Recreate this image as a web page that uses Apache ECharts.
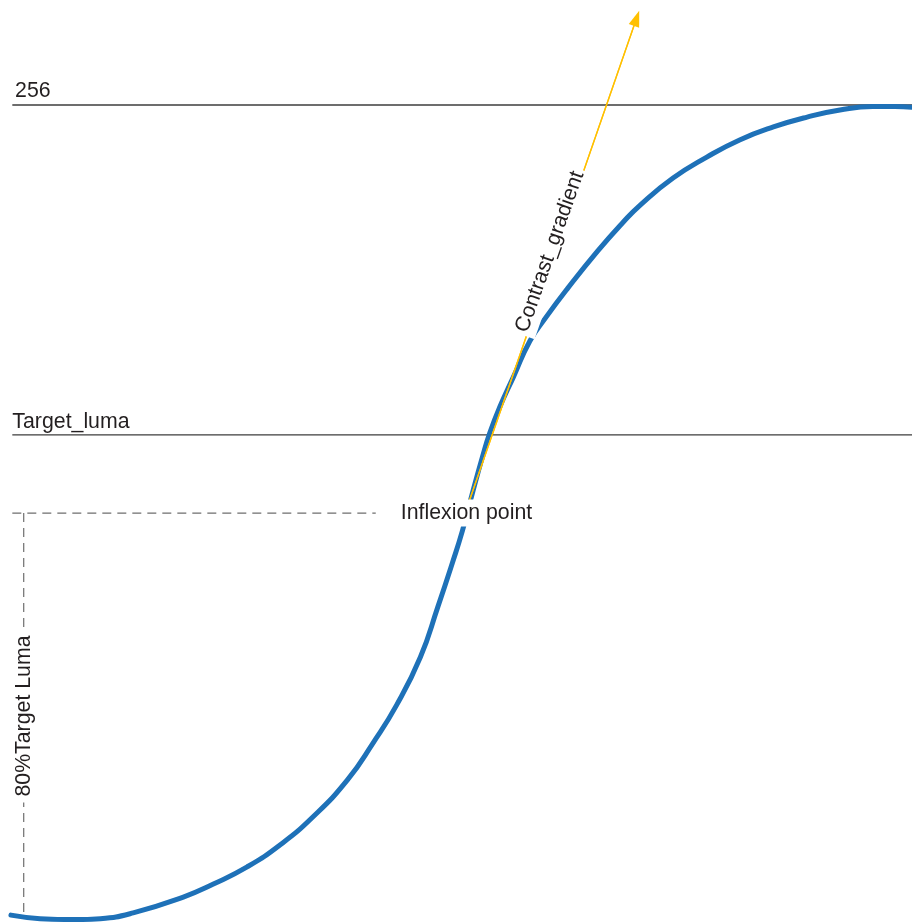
<!DOCTYPE html>
<html>
<head>
<meta charset="utf-8">
<script src="https://cdn.jsdelivr.net/npm/echarts@6/dist/echarts.min.js"></script>
<style>
html,body{margin:0;padding:0;background:#fff;}
#main{width:912px;height:922px;}
</style>
</head>
<body>
<div id="main"></div>
<script>
// S-curve (x: 0..100 across, y: luma)
const curveX = [1.2,4.4,8.2,11.0,14.6,20.1,23.4,27.1,30.7,34.3,38.1,40.9,43.5,46.1,48.0,49.6,50.7,51.8,52.9,53.7,54.8,56.3,58.1,59.8,62.2,65.5,68.3,70.2,73.8,77.5,81.1,84.8,88.5,92.1,95.7,98.1,100];
const curveY = [0.9,-0.2,-0.5,-0.2,1.6,6.6,10.7,16.1,23.0,31.8,43.5,55.1,67.1,82.2,97.9,111.8,121.9,133.8,145.2,152.7,160.9,170.4,181.7,188.9,198.1,209.9,219.0,224.5,233.0,239.6,245.0,249.1,252.2,254.4,255.5,255.5,255.3];

// axis extent (whole canvas)
const yMin = -1.26;
const yMax = 289.06;

// reference levels
const maxLuma = 256;
const targetLuma = 152.1;
const inflexionY = 127.5;
const inflexionX = 51.0;
const lineStartX = 1.35;
const lineEndX = 100;
const dashedEndX = 41.2;
const vertDashX = 2.6;
const vertDashBottom = 0.6;
const arrowEnd = [69.8, 283.3];

// annotation texts and anchors
const labelTexts = ['256', 'Target_luma', 'Inflexion point', '80%Target Luma', 'Contrast_gradient'];
const labelX = [1.6, 1.3, 51.15, 2.63, 60.3];
const labelY = [260.4, 156.2, 127.5, 63.6, 209.8];

const textColor = '#231f20';
const font = "'Liberation Sans', Arial, Helvetica, sans-serif";

const chart = echarts.init(document.getElementById('main'), null, {renderer: 'canvas'});

const labelStyles = [
  {position: 'right', distance: 0, align: 'left', verticalAlign: 'middle'},
  {position: 'right', distance: 0, align: 'left', verticalAlign: 'middle'},
  {position: 'inside', align: 'center', verticalAlign: 'middle', backgroundColor: '#fff', padding: [3, 4]},
  {position: 'inside', align: 'center', verticalAlign: 'middle', rotate: 90, backgroundColor: '#fff', padding: [2, 6]},
  {position: 'inside', align: 'center', verticalAlign: 'middle', rotate: 70.6, backgroundColor: '#fff', padding: [4, 3]}
];

const labelData = labelTexts.map((t, i) => ({
  name: t,
  value: [labelX[i], labelY[i]],
  label: Object.assign({
    show: true, formatter: '{b}',
    color: textColor, fontSize: 21.3, fontFamily: font
  }, labelStyles[i])
}));

const option = {
  animation: false,
  backgroundColor: '#fff',
  grid: {left: 0, right: 0, top: 0, bottom: 0, containLabel: false},
  xAxis: {type: 'value', min: 0, max: 100, show: false},
  yAxis: {type: 'value', min: yMin, max: yMax, show: false},
  series: [
    {
      name: 'max', type: 'line', z: 1, clip: false, symbol: 'none', silent: true,
      data: [[lineStartX, maxLuma], [lineEndX, maxLuma]],
      lineStyle: {color: '#3c3c3c', width: 1.3}
    },
    {
      name: 'target', type: 'line', z: 1, clip: false, symbol: 'none', silent: true,
      data: [[lineStartX, targetLuma], [lineEndX, targetLuma]],
      lineStyle: {color: '#3c3c3c', width: 1.3}
    },
    {
      name: 'inflexH', type: 'line', z: 1, clip: false, symbol: 'none', silent: true,
      data: [[lineStartX, inflexionY], [dashedEndX, inflexionY]],
      lineStyle: {color: '#6e6e6e', width: 1.2, type: [9, 6]}
    },
    {
      name: 'inflexV', type: 'line', z: 1, clip: false, symbol: 'none', silent: true,
      data: [[vertDashX, inflexionY], [vertDashX, vertDashBottom]],
      lineStyle: {color: '#6e6e6e', width: 1.2, type: [9, 6]}
    },
    {
      name: 'curve', type: 'line', z: 2, clip: false, symbol: 'none', silent: true,
      smooth: 0.5,
      data: curveX.map((x, i) => [x, curveY[i]]),
      lineStyle: {color: '#1E71B8', width: 5, cap: 'round'}
    },
    {
      name: 'gradient', type: 'line', z: 3, clip: false, symbol: 'none', silent: true,
      data: [[inflexionX, inflexionY], arrowEnd],
      lineStyle: {color: '#FFC000', width: 1.3},
      markLine: {
        silent: true, animation: false,
        symbol: ['none', 'triangle'], symbolSize: [11, 16],
        label: {show: false},
        lineStyle: {color: '#FFC000', width: 1.3, type: 'solid'},
        data: [[{coord: [inflexionX, inflexionY]}, {coord: arrowEnd}]]
      }
    },
    {
      name: 'labels', type: 'scatter', z: 10, clip: false, silent: true,
      symbolSize: 1,
      itemStyle: {color: 'rgba(0,0,0,0)', opacity: 1},
      data: labelData
    }
  ]
};
chart.setOption(option);
</script>
</body>
</html>
